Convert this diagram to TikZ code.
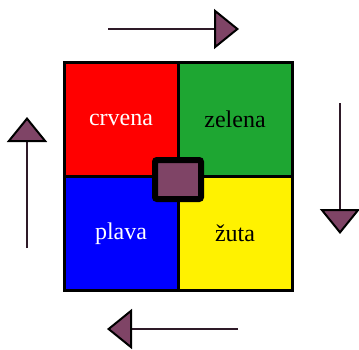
\documentclass[tikz,border=0pt]{standalone}
\usepackage{fontspec}
\setmainfont{Liberation Serif}
\usetikzlibrary{arrows.meta,positioning}
\definecolor{ljubicasta}{HTML}{7F4466}
\definecolor{tamna}{HTML}{2E1A28}
\definecolor{zelenaboja}{HTML}{1EA632}
\tikzstyle{polje}=[
	rectangle,
	draw=black,
	line width=3,
	outer sep=0,
	minimum size=114,
	font=\fontsize{24}{28}\selectfont]
\tikzstyle{strelica}=[
	draw=tamna,
	line width=2,
	-{Triangle[length=25pt,width=40pt,color=black,fill=ljubicasta]}]
\begin{document}
\begin{tikzpicture}[x=1pt,y=1pt]
	\useasboundingbox (0,0) rectangle (359,349);
	\begin{scope}[node distance=0]
		\node[polje,fill=red,text=white]	(crvena)	at (121,229.5)	{crvena};
		\node[polje,fill=zelenaboja]		(zelena)	[right=of crvena]	{zelena};
		\node[polje,fill=blue,text=white]	(plava)		[below=of crvena]	{plava};
		\node[polje,fill=yellow]			(zuta)		[right=of plava]	{žuta};
	\end{scope}
	\node[rectangle,draw=black,line width=6,rounded corners=2,fill=ljubicasta,minimum width=46,minimum height=39,yshift=-3] (sredina) at (crvena.south east) {};
	% strelice oko kvadrata
	\coordinate (gore poc) at (108,320);
	\coordinate (gore kraj) at (239,320);
	\coordinate (desno poc) at (340,246);
	\coordinate (desno kraj) at (340,115);
	\coordinate (dolje poc) at (238,20);
	\coordinate (dolje kraj) at (107,20);
	\coordinate (lijevo poc) at (27,101);
	\coordinate (lijevo kraj) at (27,232);
	\draw[strelica] (gore poc) -- (gore kraj);
	\draw[strelica] (desno poc) -- (desno kraj);
	\draw[strelica] (dolje poc) -- (dolje kraj);
	\draw[strelica] (lijevo poc) -- (lijevo kraj);
\end{tikzpicture}
\end{document}
